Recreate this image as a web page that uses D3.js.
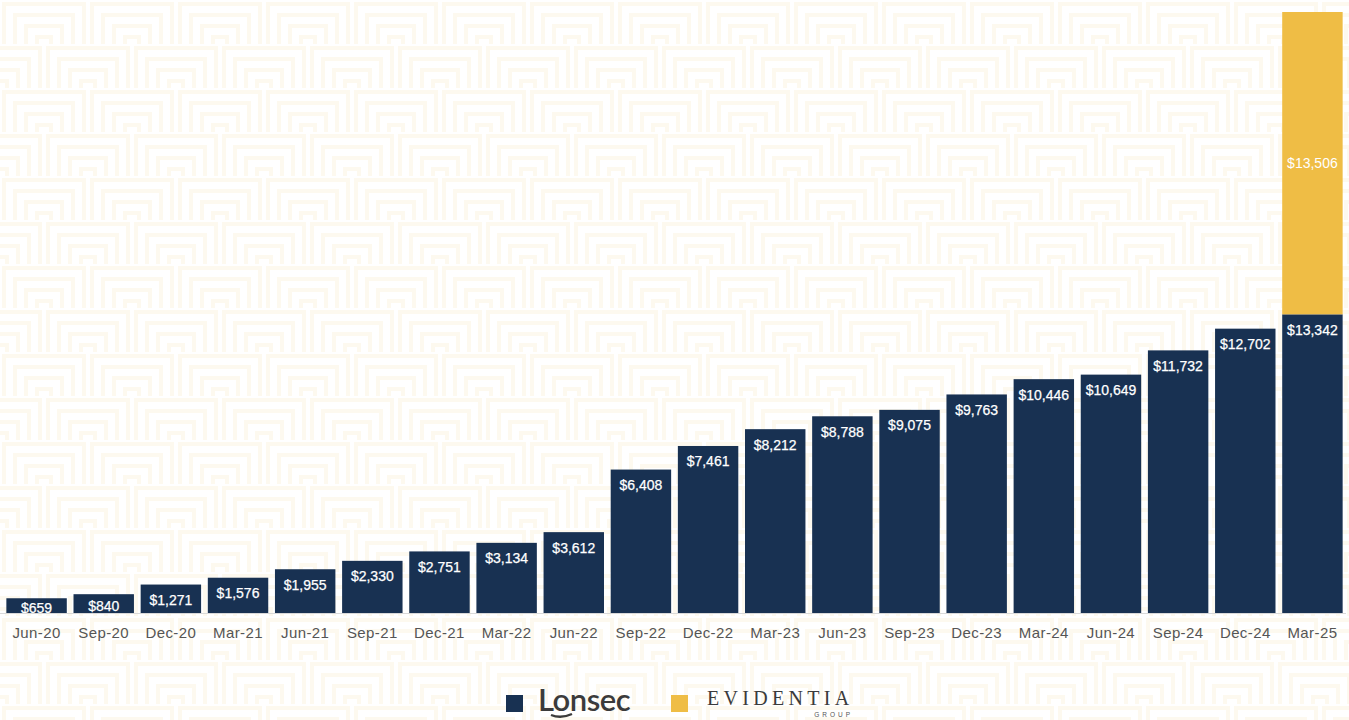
<!DOCTYPE html>
<html>
<head>
<meta charset="utf-8">
<script src="https://cdn.jsdelivr.net/npm/d3@7"></script>
<style>
  html, body { margin: 0; padding: 0; background: #fff; }
  svg { display: block; }
</style>
</head>
<body>
<svg id="chart" width="1349" height="720"></svg>
<script>
'use strict';

var periods = ['Jun-20', 'Sep-20', 'Dec-20', 'Mar-21', 'Jun-21', 'Sep-21', 'Dec-21', 'Mar-22', 'Jun-22', 'Sep-22',
	'Dec-22', 'Mar-23', 'Jun-23', 'Sep-23', 'Dec-23', 'Mar-24', 'Jun-24', 'Sep-24', 'Dec-24', 'Mar-25'];
var lonsec = [659, 840, 1271, 1576, 1955, 2330, 2751, 3134, 3612, 6408,
	7461, 8212, 8788, 9075, 9763, 10446, 10649, 11732, 12702, 13342];
var evidentia = [0, 0, 0, 0, 0, 0, 0, 0, 0, 0,
	0, 0, 0, 0, 0, 0, 0, 0, 0, 13506];
var seriesNames = ['Lonsec', 'Evidentia'];
var seriesColors = ['#183152', '#efbd45'];

var W = 1349, H = 720;
var baseY = 613, topY = 12;

var svg = d3.select('#chart');
var defs = svg.append('defs');

// faint maze-like background pattern (interlocking nested L shapes)
var pat = defs.append('pattern')
	.attr('id', 'maze')
	.attr('patternUnits', 'userSpaceOnUse')
	.attr('width', 88)
	.attr('height', 88);
var tileColor = '#fdf9ef';
function nestedL(g, rot) {
	var grp = g.append('g').attr('transform', rot);
	[0, 11, 22, 33].forEach(function (o) {
		grp.append('path')
			.attr('d', 'M' + (4 + o) + ',44 L' + (4 + o) + ',' + (4 + o) + ' L44,' + (4 + o))
			.attr('fill', 'none')
			.attr('stroke', tileColor)
			.attr('stroke-width', 4);
	});
}
nestedL(pat, 'translate(0,0)');
nestedL(pat, 'translate(44,44)');
nestedL(pat, 'translate(88,0) rotate(90)');
nestedL(pat, 'translate(44,44) rotate(90)');

svg.append('rect')
	.attr('width', W)
	.attr('height', H)
	.attr('fill', 'url(#maze)');

defs.append('clipPath').attr('id', 'plotClip')
	.append('rect').attr('x', 0).attr('y', 0).attr('width', W).attr('height', baseY);

var x = d3.scaleBand()
	.domain(periods)
	.range([3, 1346])
	.paddingInner(0.1)
	.paddingOuter(0.05);

var totalMax = d3.max(periods, function (p, i) { return lonsec[i] + evidentia[i]; });
var y = d3.scaleLinear()
	.domain([0, totalMax])
	.range([baseY, topY]);

var rows = periods.map(function (p, i) {
	return { period: p, Lonsec: lonsec[i], Evidentia: evidentia[i] };
});
var stacked = d3.stack().keys(seriesNames)(rows);

var plot = svg.append('g').attr('clip-path', 'url(#plotClip)');

stacked.forEach(function (layer, k) {
	plot.append('g')
		.selectAll('rect')
		.data(layer.filter(function (d) { return d[1] > d[0]; }))
		.enter()
		.append('rect')
		.attr('x', function (d) { return x(d.data.period); })
		.attr('y', function (d) { return y(d[1]); })
		.attr('width', x.bandwidth())
		.attr('height', function (d) { return y(d[0]) - y(d[1]); })
		.attr('fill', seriesColors[k]);
});

var fmt = d3.format(',');
var labelFont = '"Liberation Sans", Arial, sans-serif';

// Lonsec labels at the inside end of the bar (pulled to centre on short bars)
plot.append('g')
	.selectAll('text')
	.data(stacked[0])
	.enter()
	.append('text')
	.attr('x', function (d) { return x(d.data.period) + x.bandwidth() / 2; })
	.attr('y', function (d) {
		var top = y(d[1]), bot = y(d[0]);
		return Math.min(top + 20.5, (top + bot) / 2 + 7.5);
	})
	.attr('text-anchor', 'middle')
	.attr('fill', '#fff')
	.style('font-family', labelFont)
	.style('font-size', '14px')
	.style('stroke', '#fff')
	.style('stroke-width', '0.25px')
	.text(function (d) { return '$' + fmt(d[1] - d[0]); });

// Evidentia labels centred in segment
plot.append('g')
	.selectAll('text')
	.data(stacked[1].filter(function (d) { return d[1] > d[0]; }))
	.enter()
	.append('text')
	.attr('x', function (d) { return x(d.data.period) + x.bandwidth() / 2; })
	.attr('y', function (d) { return (y(d[0]) + y(d[1])) / 2 + 5; })
	.attr('text-anchor', 'middle')
	.attr('fill', '#fff')
	.style('font-family', labelFont)
	.style('font-size', '14px')
	.text(function (d) { return '$' + fmt(d[1] - d[0]); });

// baseline axis
var axis = svg.append('g')
	.attr('transform', 'translate(0,' + baseY + ')')
	.call(d3.axisBottom(x).tickSize(0).tickPadding(14));
axis.select('.domain')
	.attr('stroke', '#d9d9d9')
	.attr('d', 'M0,0.5H1346');
axis.selectAll('text')
	.attr('fill', '#555')
	.style('font-family', labelFont)
	.style('font-size', '15px')
	.style('letter-spacing', '0.4px');

// legend
var legend = svg.append('g');
legend.append('rect').attr('x', 506).attr('y', 695).attr('width', 17).attr('height', 17).attr('fill', seriesColors[0]);
legend.append('text')
	.attr('x', 538).attr('y', 711)
	.attr('fill', '#3b3b3b')
	.style('font-family', 'Lato, "Open Sans", sans-serif')
	.style('font-size', '31px')
	.style('font-weight', 600)
	.style('letter-spacing', '-0.5px')
	.text('Lonsec');
legend.append('path')
	.attr('d', 'M551,715 Q561,719 572,714')
	.attr('fill', 'none')
	.attr('stroke', '#3b3b3b')
	.attr('stroke-width', 2.4);

legend.append('rect').attr('x', 671).attr('y', 695).attr('width', 17).attr('height', 17).attr('fill', seriesColors[1]);
legend.append('text')
	.attr('x', 707).attr('y', 705)
	.attr('fill', '#3b3b3b')
	.style('font-family', '"Liberation Serif", "DejaVu Serif", serif')
	.style('font-size', '20px')
	.style('letter-spacing', '4.3px')
	.text('EVIDENTIA');
legend.append('text')
	.attr('x', 853).attr('y', 717)
	.attr('text-anchor', 'end')
	.attr('fill', '#555')
	.style('font-family', labelFont)
	.style('font-size', '6.5px')
	.style('letter-spacing', '3px')
	.text('GROUP');
</script>
</body>
</html>
